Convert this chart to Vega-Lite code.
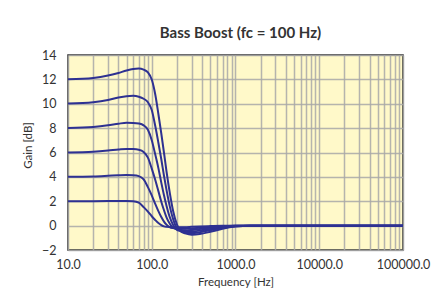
{
  "$schema": "https://vega.github.io/schema/vega-lite/v6.json",
  "width": 335,
  "height": 195,
  "autosize": {"type": "none"},
  "padding": {"left": 68, "top": 55, "right": 34, "bottom": 56},
  "background": "white",
  "title": {
    "text": "Bass Boost (fc = 100 Hz)",
    "font": "Lato",
    "fontSize": 15,
    "fontWeight": "bold",
    "color": "#333333",
    "offset": 8,
    "dx": 5
  },
  "config": {
    "view": {"fill": "#fff9c9", "stroke": "#2a2a2a", "strokeWidth": 1.5},
    "axis": {
      "labelFont": "Lato",
      "titleFont": "Lato",
      "labelColor": "#333333",
      "titleColor": "#333333",
      "titleFontWeight": "normal",
      "labelFontSize": 12.5,
      "titleFontSize": 11.5,
      "ticks": false,
      "tickSize": 0,
      "domain": false,
      "labelFlush": false,
      "gridColor": "#a8a8a8",
      "gridWidth": 1.5,
      "gridOpacity": 0.85
    }
  },
  "data": {
    "values": [
      {"c":"12","f":10,"g":12.02},{"c":"12","f":20,"g":12.12},{"c":"12","f":30,"g":12.31},{"c":"12","f":40,"g":12.53},{"c":"12","f":50,"g":12.73},{"c":"12","f":60,"g":12.85},{"c":"12","f":70,"g":12.89},{"c":"12","f":80,"g":12.8},{"c":"12","f":90,"g":12.58},{"c":"12","f":100,"g":11.99},{"c":"12","f":110,"g":10.78},{"c":"12","f":120,"g":9.16},{"c":"12","f":130,"g":7.56},{"c":"12","f":140,"g":5.98},{"c":"12","f":150,"g":4.46},{"c":"12","f":165,"g":2.61},{"c":"12","f":180,"g":1.2},{"c":"12","f":200,"g":0.08},{"c":"12","f":225,"g":-0.5},{"c":"12","f":250,"g":-0.63},{"c":"12","f":300,"g":-0.74},{"c":"12","f":375,"g":-0.69},{"c":"12","f":500,"g":-0.51},{"c":"12","f":700,"g":-0.26},{"c":"12","f":1000,"g":-0.08},{"c":"12","f":1500,"g":-0.01},{"c":"12","f":100000,"g":0},
      {"c":"10","f":10,"g":10.02},{"c":"10","f":20,"g":10.13},{"c":"10","f":30,"g":10.31},{"c":"10","f":40,"g":10.51},{"c":"10","f":50,"g":10.62},{"c":"10","f":60,"g":10.65},{"c":"10","f":70,"g":10.58},{"c":"10","f":80,"g":10.41},{"c":"10","f":90,"g":10.12},{"c":"10","f":100,"g":9.48},{"c":"10","f":110,"g":8.19},{"c":"10","f":120,"g":6.8},{"c":"10","f":130,"g":5.45},{"c":"10","f":140,"g":4.09},{"c":"10","f":150,"g":2.93},{"c":"10","f":165,"g":1.52},{"c":"10","f":180,"g":0.53},{"c":"10","f":200,"g":-0.22},{"c":"10","f":225,"g":-0.48},{"c":"10","f":250,"g":-0.57},{"c":"10","f":300,"g":-0.61},{"c":"10","f":375,"g":-0.54},{"c":"10","f":500,"g":-0.38},{"c":"10","f":700,"g":-0.18},{"c":"10","f":1000,"g":-0.06},{"c":"10","f":1500,"g":-0.01},{"c":"10","f":100000,"g":0},
      {"c":"8","f":10,"g":8.02},{"c":"8","f":20,"g":8.1},{"c":"8","f":30,"g":8.23},{"c":"8","f":40,"g":8.36},{"c":"8","f":50,"g":8.44},{"c":"8","f":60,"g":8.43},{"c":"8","f":70,"g":8.38},{"c":"8","f":80,"g":8.23},{"c":"8","f":90,"g":7.86},{"c":"8","f":100,"g":7.0},{"c":"8","f":110,"g":5.85},{"c":"8","f":120,"g":4.72},{"c":"8","f":130,"g":3.53},{"c":"8","f":140,"g":2.5},{"c":"8","f":150,"g":1.64},{"c":"8","f":165,"g":0.65},{"c":"8","f":180,"g":0.05},{"c":"8","f":200,"g":-0.34},{"c":"8","f":225,"g":-0.44},{"c":"8","f":250,"g":-0.48},{"c":"8","f":300,"g":-0.48},{"c":"8","f":375,"g":-0.41},{"c":"8","f":500,"g":-0.27},{"c":"8","f":700,"g":-0.12},{"c":"8","f":1000,"g":-0.04},{"c":"8","f":1500,"g":0},{"c":"8","f":100000,"g":0},
      {"c":"6","f":10,"g":6.01},{"c":"6","f":20,"g":6.07},{"c":"6","f":30,"g":6.16},{"c":"6","f":40,"g":6.24},{"c":"6","f":50,"g":6.29},{"c":"6","f":60,"g":6.28},{"c":"6","f":70,"g":6.23},{"c":"6","f":80,"g":6.05},{"c":"6","f":90,"g":5.58},{"c":"6","f":100,"g":4.68},{"c":"6","f":110,"g":3.77},{"c":"6","f":120,"g":2.83},{"c":"6","f":130,"g":1.96},{"c":"6","f":140,"g":1.26},{"c":"6","f":150,"g":0.68},{"c":"6","f":165,"g":0.13},{"c":"6","f":180,"g":-0.18},{"c":"6","f":200,"g":-0.3},{"c":"6","f":225,"g":-0.36},{"c":"6","f":250,"g":-0.38},{"c":"6","f":300,"g":-0.35},{"c":"6","f":375,"g":-0.28},{"c":"6","f":500,"g":-0.17},{"c":"6","f":700,"g":-0.07},{"c":"6","f":1000,"g":-0.02},{"c":"6","f":1500,"g":0},{"c":"6","f":100000,"g":0},
      {"c":"4","f":10,"g":4.01},{"c":"4","f":20,"g":4.04},{"c":"4","f":30,"g":4.09},{"c":"4","f":40,"g":4.13},{"c":"4","f":50,"g":4.15},{"c":"4","f":60,"g":4.13},{"c":"4","f":70,"g":4.06},{"c":"4","f":80,"g":3.79},{"c":"4","f":90,"g":3.16},{"c":"4","f":100,"g":2.48},{"c":"4","f":110,"g":1.79},{"c":"4","f":120,"g":1.19},{"c":"4","f":130,"g":0.7},{"c":"4","f":140,"g":0.33},{"c":"4","f":150,"g":0.08},{"c":"4","f":165,"g":-0.14},{"c":"4","f":180,"g":-0.2},{"c":"4","f":200,"g":-0.24},{"c":"4","f":225,"g":-0.26},{"c":"4","f":250,"g":-0.25},{"c":"4","f":300,"g":-0.23},{"c":"4","f":375,"g":-0.17},{"c":"4","f":500,"g":-0.1},{"c":"4","f":700,"g":-0.04},{"c":"4","f":1000,"g":-0.01},{"c":"4","f":1500,"g":0},{"c":"4","f":100000,"g":0},
      {"c":"2","f":10,"g":2.0},{"c":"2","f":20,"g":2.01},{"c":"2","f":30,"g":2.02},{"c":"2","f":40,"g":2.03},{"c":"2","f":50,"g":2.03},{"c":"2","f":60,"g":2.01},{"c":"2","f":70,"g":1.88},{"c":"2","f":80,"g":1.52},{"c":"2","f":90,"g":1.15},{"c":"2","f":100,"g":0.77},{"c":"2","f":110,"g":0.46},{"c":"2","f":120,"g":0.21},{"c":"2","f":130,"g":0.05},{"c":"2","f":140,"g":-0.06},{"c":"2","f":150,"g":-0.1},{"c":"2","f":165,"g":-0.12},{"c":"2","f":180,"g":-0.13},{"c":"2","f":200,"g":-0.14},{"c":"2","f":225,"g":-0.13},{"c":"2","f":250,"g":-0.13},{"c":"2","f":300,"g":-0.1},{"c":"2","f":375,"g":-0.07},{"c":"2","f":500,"g":-0.04},{"c":"2","f":700,"g":-0.01},{"c":"2","f":1000,"g":0},{"c":"2","f":1500,"g":0},{"c":"2","f":100000,"g":0}
    ]
  },
  "mark": {"type": "line", "color": "#2e3192", "strokeWidth": 2, "interpolate": "monotone", "clip": true},
  "encoding": {
    "x": {
      "field": "f",
      "type": "quantitative",
      "scale": {"type": "log", "domain": [10, 100000], "nice": false},
      "axis": {
        "title": "Frequency [Hz]",
        "values": [10,20,30,40,50,60,70,80,90,100,200,300,400,500,600,700,800,900,1000,2000,3000,4000,5000,6000,7000,8000,9000,10000,20000,30000,40000,50000,60000,70000,80000,90000,100000],
        "labelExpr": "(datum.value == 10 || datum.value == 100 || datum.value == 1000 || datum.value == 10000 || datum.value == 100000) ? format(datum.value, '.1f') : ''",
        "labelOverlap": false,
        "labelPadding": 8,
        "titlePadding": 6
      }
    },
    "y": {
      "field": "g",
      "type": "quantitative",
      "scale": {"domain": [-2, 14], "nice": false, "zero": false},
      "axis": {
        "title": "Gain [dB]",
        "values": [-2,0,2,4,6,8,10,12,14],
        "labelPadding": 12,
        "titlePadding": 8,
        "titleY": 90
      }
    },
    "detail": {"field": "c"}
  }
}
